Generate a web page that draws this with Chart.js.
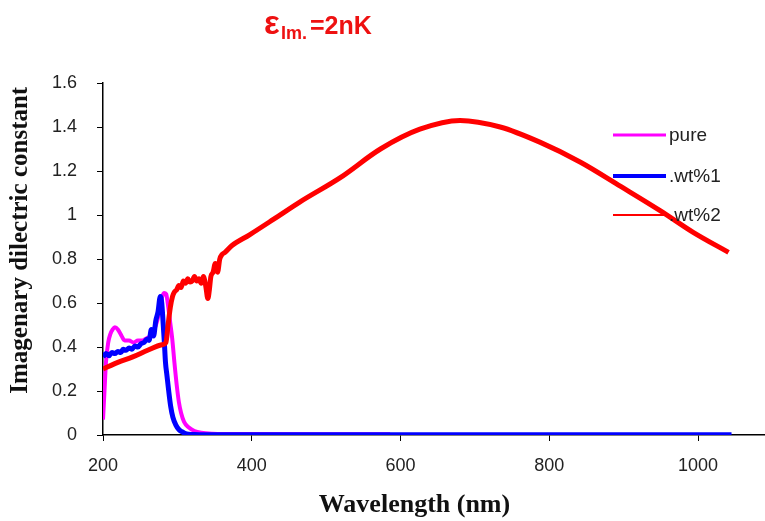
<!DOCTYPE html>
<html>
<head>
<meta charset="utf-8">
<script src="https://cdn.jsdelivr.net/npm/chart.js@4.4.1/dist/chart.umd.min.js"></script>
<style>
  html, body { margin: 0; padding: 0; background: #fff; }
  #wrap { width: 765px; height: 521px; position: relative; }
</style>
</head>
<body>
<div id="wrap"><canvas id="lineChart"></canvas></div>
<script>
// wavelength (nm) / imaginary dielectric constant
var pureWl  = [200,202,204,207,210,213,216,220,225,229,235,241,247,253,259,264,269,273,277,279,282,285,287,290,293,296,299,302,305,309,315,323,332,347,396,494,586];
var pureVal = [0.07,0.2,0.33,0.42,0.46,0.48,0.49,0.48,0.45,0.43,0.43,0.42,0.43,0.43,0.44,0.45,0.48,0.52,0.58,0.62,0.645,0.64,0.6,0.52,0.44,0.33,0.23,0.15,0.10,0.06,0.035,0.018,0.01,0.006,0.004,0.003,0.003];

var wt1Wl  = [200,204,208,212,216,220,224,227,231,235,239,243,247,251,255,259,262,265,268,271,274,277,279,281,282.5,284,286,288,291,294,298,302,306,310,315,323,337,396,592,788,1045];
var wt1Val = [0.355,0.37,0.36,0.375,0.37,0.38,0.375,0.39,0.385,0.395,0.39,0.405,0.4,0.415,0.42,0.435,0.43,0.48,0.45,0.52,0.56,0.63,0.6,0.5,0.42,0.33,0.27,0.21,0.13,0.08,0.045,0.025,0.015,0.008,0.004,0.002,0.001,0.001,0.001,0.001,0.001];

var wt2Wl  = [200,220,240,260,279,284.5,287.5,290.5,293.5,296,299,302,305,308,311,314,317,320,323,326,329,332,335,338,341,343,345,348,351,354,357,360,364,373,397,429,465,519,573,626,680,734,788,842,896,949,994,1041];
var wt2Val = [0.30,0.33,0.355,0.385,0.41,0.42,0.5,0.58,0.63,0.65,0.66,0.68,0.67,0.70,0.69,0.71,0.695,0.70,0.72,0.70,0.71,0.69,0.72,0.68,0.62,0.66,0.72,0.74,0.78,0.74,0.8,0.82,0.83,0.86,0.91,0.98,1.06,1.17,1.30,1.39,1.43,1.40,1.33,1.24,1.13,1.02,0.92,0.83];

var seriesNames = ['pure', '.wt%1', '.wt%2'];
var xTicks = [200, 400, 600, 800, 1000];

function toPoints(xs, ys) {
    return xs.map(function (x, i) { return {x: x, y: ys[i]}; });
}

// title "ε Im. = 2nK" and the legend inside the plot
var extras = {
    id: 'extras',
    afterDraw: function (chart) {
        var c = chart.ctx;
        c.save();
        c.fillStyle = '#ee1111';
        c.textBaseline = 'alphabetic';
        c.textAlign = 'left';
        c.font = 'bold 33px "Liberation Sans"';
        c.fillText('\u03b5', 264, 34);
        c.font = 'bold 18px "Liberation Sans"';
        c.fillText('Im.', 281, 39);
        c.font = 'bold 25px "Liberation Sans"';
        c.fillText('=2nK', 310, 34);

        var items = [
            {color: '#ff00ff', w: 3, y: 135},
            {color: '#0000ff', w: 4, y: 176},
            {color: '#ff0000', w: 2, y: 215}
        ];
        c.font = '19px "Liberation Sans"';
        c.textBaseline = 'middle';
        items.forEach(function (it, i) {
            c.strokeStyle = it.color;
            c.lineWidth = it.w;
            c.beginPath();
            c.moveTo(613, it.y);
            c.lineTo(666, it.y);
            c.stroke();
            c.fillStyle = '#222';
            c.fillText(seriesNames[i], 669, it.y + 1);
        });
        c.restore();
    }
};

var ctx = document.getElementById('lineChart');
var myChart = new Chart(ctx, {
    type: 'line',
    data: {
        datasets: [{
            label: seriesNames[0],
            data: toPoints(pureWl, pureVal),
            borderColor: '#ff00ff',
            borderWidth: 4,
            order: 3
        }, {
            label: seriesNames[1],
            data: toPoints(wt1Wl, wt1Val),
            borderColor: '#0000ff',
            borderWidth: 5,
            order: 2
        }, {
            label: seriesNames[2],
            data: toPoints(wt2Wl, wt2Val),
            borderColor: '#ff0000',
            borderWidth: 5,
            order: 1
        }]
    },
    options: {
        responsive: true,
        maintainAspectRatio: false,
        animation: false,
        events: [],
        layout: { padding: { top: 83, right: 0, left: 0, bottom: 0 } },
        elements: {
            point: { radius: 0 },
            line: { cubicInterpolationMode: 'monotone', fill: false }
        },
        scales: {
            x: {
                type: 'linear',
                min: 200,
                max: 1090,
                afterBuildTicks: function (axis) {
                    axis.ticks = xTicks.map(function (v) { return {value: v}; });
                },
                afterFit: function (axis) { axis.height = 86; },
                grid: { drawOnChartArea: false, drawTicks: true, tickLength: 6, color: '#000' },
                border: { display: true, color: '#000', width: 1.5 },
                ticks: {
                    color: '#222',
                    padding: 14,
                    maxRotation: 0,
                    font: { family: 'Liberation Sans', size: 18 },
                    callback: function (v) { return String(v); }
                },
                title: {
                    display: true,
                    // trailing spaces pull the centred title a little left, as in the original
                    text: 'Wavelength (nm)\u00a0\u00a0\u00a0\u00a0\u00a0\u00a0',
                    color: '#111',
                    font: { family: 'Liberation Serif', size: 26, weight: 'bold' },
                    padding: { top: 0, bottom: 0 }
                }
            },
            y: {
                min: 0,
                max: 1.6,
                ticks: {
                    stepSize: 0.2,
                    color: '#222',
                    padding: 20,
                    font: { family: 'Liberation Sans', size: 18 },
                    callback: function (v) { return String(Math.round(v * 10) / 10); }
                },
                afterFit: function (axis) { axis.width = 103; },
                grid: { drawOnChartArea: false, drawTicks: true, tickLength: 6, color: '#000' },
                border: { display: true, color: '#000', width: 1.5 },
                title: {
                    display: true,
                    text: '\u00a0\u00a0\u00a0\u00a0\u00a0\u00a0Imagenary dilectric constant',
                    color: '#111',
                    font: { family: 'Liberation Serif', size: 25, weight: 'bold' },
                    padding: { top: 6, bottom: 0 }
                }
            }
        },
        plugins: {
            legend: { display: false },
            tooltip: { enabled: false }
        }
    },
    plugins: [extras]
});
</script>
</body>
</html>
